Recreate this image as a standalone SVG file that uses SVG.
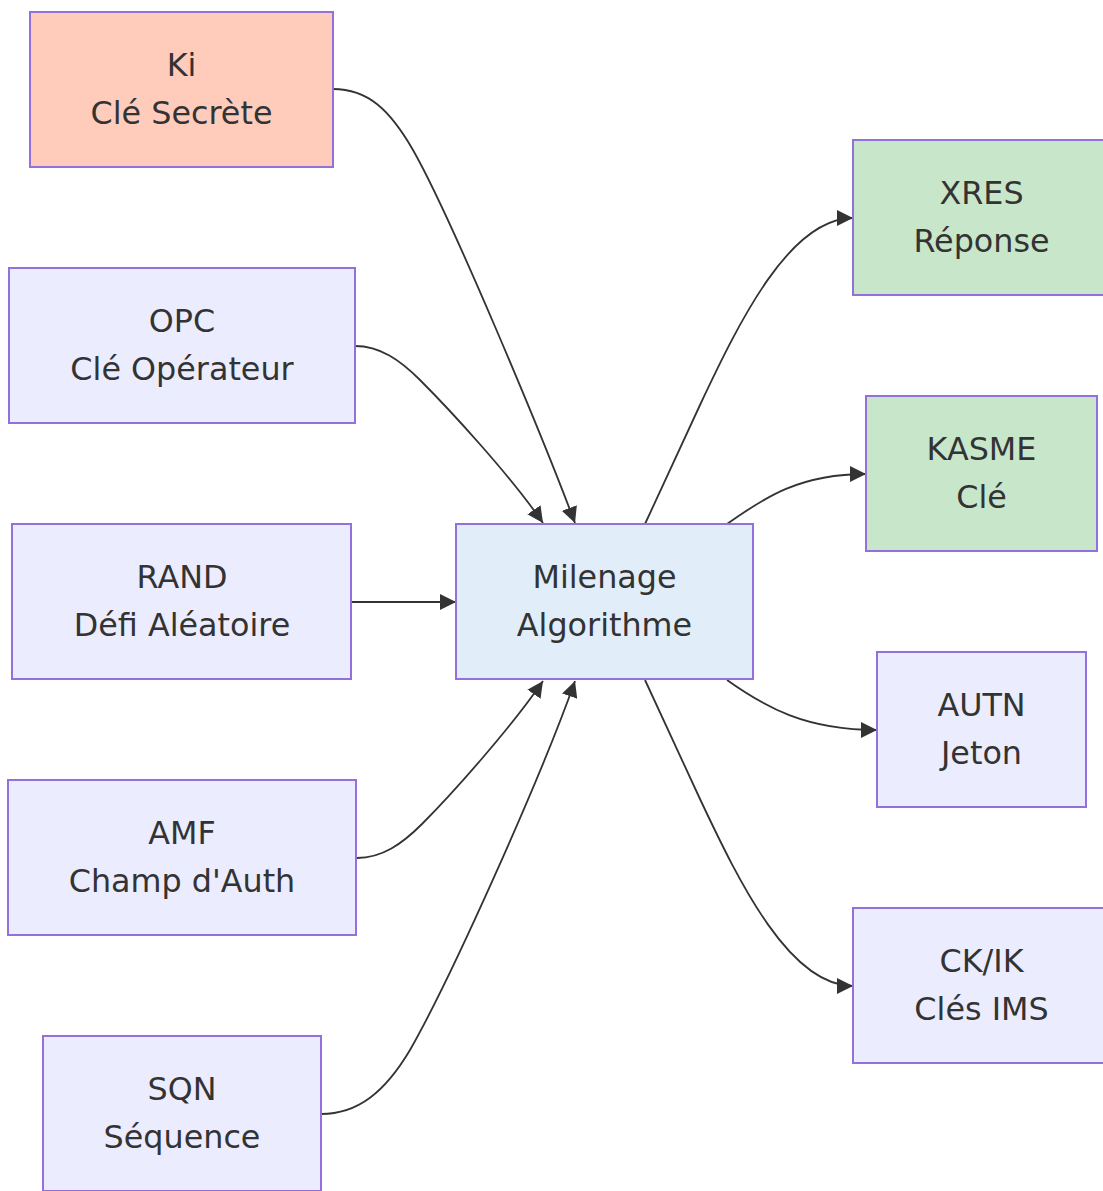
<svg xmlns="http://www.w3.org/2000/svg" width="1103" height="1191" viewBox="0 0 1103 1191">
<style>
.node rect{fill:#ECECFF;stroke:#9370DB;stroke-width:2}
.node.red rect{fill:#FFCCBC}
.node.green rect{fill:#C8E6C9}
.node.blue rect{fill:#E1EEF9}
.node text{font-family:"DejaVu Sans",sans-serif;font-size:31.8px;fill:#333;text-anchor:middle}
.edges path{fill:none;stroke:#333;stroke-width:1.8;marker-end:url(#arrow)}
</style>
<defs>
<marker id="arrow" viewBox="0 0 10 10" refX="10" refY="5" markerUnits="userSpaceOnUse" markerWidth="16" markerHeight="16" orient="auto">
<path d="M0,0 L10,5 L0,10 z" fill="#333"/>
</marker>
</defs>
<rect width="1103" height="1191" fill="#fff"/>
<g class="edges">
<path d="M333,89 C368,89 390,110 413,150 C450,215 540,430 575,523"/>
<path d="M355,346 C380,346 400,360 420,380 C450,410 510,475 543,523"/>
<path d="M351,602 L456,602"/>
<path d="M357,858 C382,858 402,844 422,824 C452,794 510,729 543,681"/>
<path d="M321,1114 C358,1114 385,1092 410,1050 C450,980 540,780 575,681"/>
<path d="M645,524 L700,405 C740,320 790,218 853,218"/>
<path d="M727,524 C765,497 800,474 866,474"/>
<path d="M727,680 C765,707 805,730 877,730"/>
<path d="M645,680 L700,799 C740,884 790,986 853,986"/>
</g>
<g id="ki" class="node red"><rect x="30" y="12" width="303" height="155"/><text x="181.5" y="76">Ki</text><text x="181.5" y="124">Clé Secrète</text></g>
<g id="opc" class="node"><rect x="9" y="268" width="346" height="155"/><text x="182" y="332">OPC</text><text x="182" y="380">Clé Opérateur</text></g>
<g id="rand" class="node"><rect x="12" y="524" width="339" height="155"/><text x="182" y="588">RAND</text><text x="182" y="636">Défi Aléatoire</text></g>
<g id="amf" class="node"><rect x="8" y="780" width="348" height="155"/><text x="182" y="844">AMF</text><text x="182" y="892">Champ d'Auth</text></g>
<g id="sqn" class="node"><rect x="43" y="1036" width="278" height="155"/><text x="182" y="1100">SQN</text><text x="182" y="1148">Séquence</text></g>
<g id="milenage" class="node blue"><rect x="456" y="524" width="297" height="155"/><text x="604.5" y="588">Milenage</text><text x="604.5" y="636">Algorithme</text></g>
<g id="xres" class="node green"><rect x="853" y="140" width="258" height="155"/><text x="981.5" y="204">XRES</text><text x="981.5" y="252">Réponse</text></g>
<g id="kasme" class="node green"><rect x="866" y="396" width="231" height="155"/><text x="981.5" y="460">KASME</text><text x="981.5" y="508">Clé</text></g>
<g id="autn" class="node"><rect x="877" y="652" width="209" height="155"/><text x="981.5" y="716">AUTN</text><text x="981.5" y="764">Jeton</text></g>
<g id="ckik" class="node"><rect x="853" y="908" width="258" height="155"/><text x="981.5" y="972">CK/IK</text><text x="981.5" y="1020">Clés IMS</text></g>
</svg>
